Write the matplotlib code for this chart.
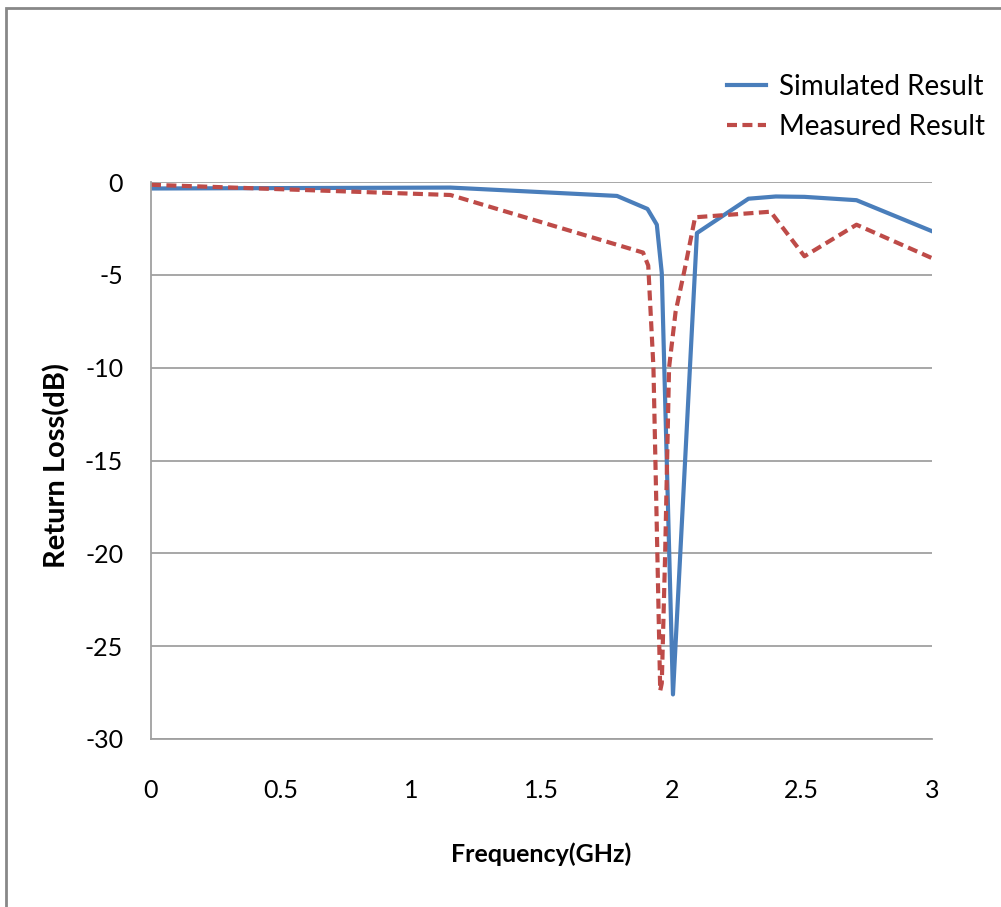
import matplotlib.pyplot as plt
from matplotlib.patches import Rectangle

plt.rcParams['font.family'] = ['Lato', 'DejaVu Sans']

# simulated return loss
sim_freq = [0.0, 1.15, 1.79, 1.907, 1.943, 1.962, 2.005, 2.097, 2.295, 2.40, 2.51, 2.71, 3.0]
sim_rl = [-0.35, -0.3, -0.75, -1.45, -2.3, -4.9, -27.6, -2.75, -0.9, -0.78, -0.8, -0.98, -2.65]

# measured return loss
meas_freq = [0.0, 1.15, 1.89, 1.91, 1.93, 1.945, 1.956, 1.962, 1.975, 1.99, 2.015, 2.05, 2.09, 2.38, 2.51, 2.71, 3.0]
meas_rl = [-0.15, -0.7, -3.8, -4.5, -10, -20, -27.4, -27.0, -20, -10, -7, -4.7, -1.9, -1.6, -4.0, -2.3, -4.1]

W, H = 1001, 907
fig = plt.figure(figsize=(W / 100, H / 100), dpi=100)
ax = fig.add_axes([151 / W, 1 - 739 / H, (932 - 151) / W, (739 - 182) / H])

ax.plot(sim_freq, sim_rl, color='#4A7EBB', lw=3.0, label='Simulated Result')
ax.plot(meas_freq, meas_rl, color='#BE4B48', lw=3.0, ls=(0, (2.4, 1.3)), label='Measured Result')

ax.set_xlim(0, 3)
ax.set_ylim(-30, 0)
ax.set_xticks([0, 0.5, 1, 1.5, 2, 2.5, 3])
ax.set_xticklabels(['0', '0.5', '1', '1.5', '2', '2.5', '3'])
ax.set_yticks([0, -5, -10, -15, -20, -25, -30])
ax.set_yticklabels(['0', '-5', '-10', '-15', '-20', '-25', '-30'])
ax.grid(axis='y', color='#A0A0A0', lw=1.3)
ax.set_axisbelow(True)
for s in ['top', 'right']:
    ax.spines[s].set_visible(False)
for s in ['left', 'bottom']:
    ax.spines[s].set_color('#A0A0A0')
    ax.spines[s].set_linewidth(1.3)
ax.tick_params(length=0, labelsize=18)
ax.tick_params(axis='x', pad=29)
ax.tick_params(axis='y', pad=20)

ax.set_xlabel('Frequency(GHz)', fontsize=18, fontweight='bold')
ax.set_ylabel('Return Loss(dB)', fontsize=21, fontweight='bold')
ax.xaxis.set_label_coords((541 - 151) / (932 - 151), -(854 - 739) / (739 - 182))
ax.yaxis.set_label_coords(-(151 - 57) / (932 - 151), (739 - 466) / (739 - 182))
ax.xaxis.label.set_va('center')
ax.yaxis.label.set_va('center')

ax.legend(loc='upper left', bbox_to_anchor=(727 / W, 1 - 74 / H), bbox_transform=fig.transFigure,
          frameon=False, fontsize=20, handlelength=1.4, handletextpad=0.47, labelspacing=0.5,
          borderpad=0, borderaxespad=0)

fig.patches.append(Rectangle((6 / W, -0.1), 1.2, 1 - 8 / H + 0.1, transform=fig.transFigure,
                             fill=False, edgecolor='#888888', lw=2))

fig.savefig('out.png', dpi=100)
